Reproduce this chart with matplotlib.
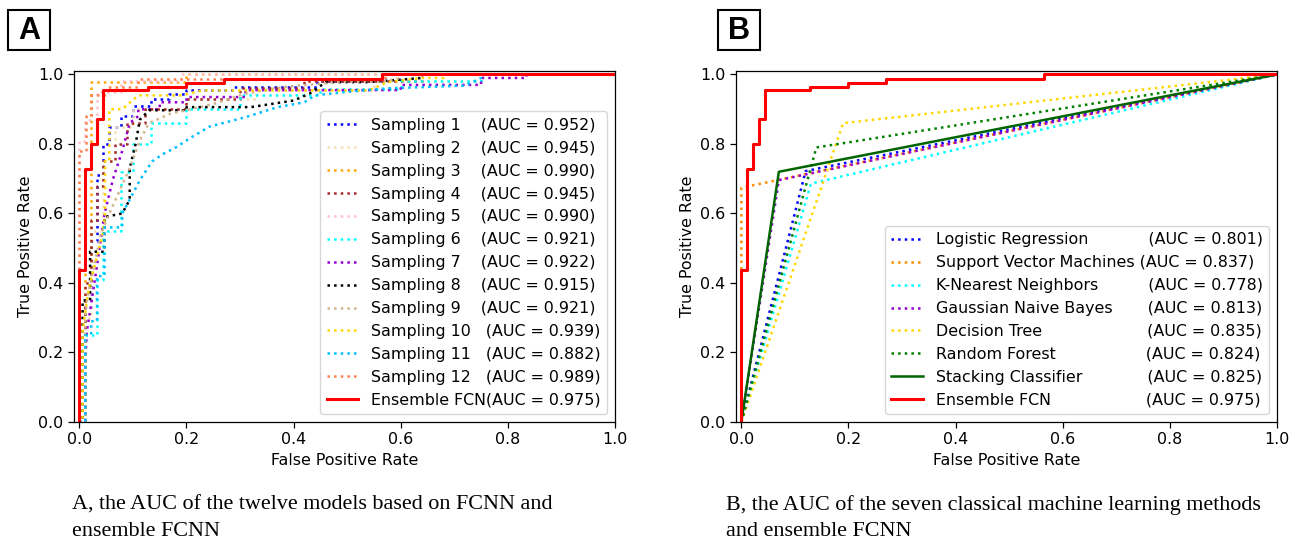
import matplotlib
matplotlib.use('Agg')
from matplotlib import pyplot as plt
from matplotlib.patches import Rectangle
from matplotlib.textpath import TextPath

plt.rcParams['font.family'] = ['DejaVu Sans']
plt.rcParams['axes.linewidth'] = 0.9

# ---- panel A : twelve sampling models + ensemble ----
samp_names = ['Sampling %d' % i for i in range(1, 13)]
samp_auc = [0.952, 0.945, 0.990, 0.945, 0.990, 0.921, 0.922, 0.915, 0.921, 0.939, 0.882, 0.989]
samp_colors = ['blue', 'wheat', 'orange', 'brown', 'pink', 'cyan', 'darkviolet', 'black',
               'tan', 'gold', 'deepskyblue', 'coral']

fpr_s1 = [0, 0.011, 0.011, 0.022, 0.022, 0.033, 0.033, 0.044, 0.044, 0.056, 0.056, 0.078, 0.078, 0.1, 0.1,
          0.133, 0.133, 0.167, 0.167, 0.2, 0.2, 0.289, 0.289, 0.444, 0.444, 0.6, 0.6, 1.0]
tpr_s1 = [0, 0, 0.33, 0.33, 0.52, 0.52, 0.71, 0.71, 0.8, 0.8, 0.85, 0.85, 0.88, 0.88, 0.91,
          0.91, 0.93, 0.93, 0.945, 0.945, 0.955, 0.955, 0.965, 0.965, 0.98, 0.98, 1.0, 1.0]
fpr_s2 = [0, 0.011, 0.011, 0.022, 0.022, 0.044, 0.044, 0.067, 0.067, 0.1, 0.1, 0.2, 0.2, 0.33, 0.33,
          0.55, 0.55, 0.75, 0.75, 1.0]
tpr_s2 = [0, 0, 0.3, 0.3, 0.55, 0.55, 0.75, 0.75, 0.85, 0.85, 0.9, 0.9, 0.93, 0.93, 0.955,
          0.955, 0.98, 0.98, 1.0, 1.0]
fpr_s3 = [0, 0.011, 0.011, 0.022, 0.022, 0.2, 0.2, 1.0]
tpr_s3 = [0, 0, 0.45, 0.45, 0.977, 0.977, 1.0, 1.0]
fpr_s4 = [0, 0.011, 0.011, 0.022, 0.022, 0.033, 0.033, 0.044, 0.044, 0.067, 0.067, 0.089, 0.089,
          0.122, 0.122, 0.2, 0.2, 0.3, 0.3, 0.42, 0.42, 0.64, 0.64, 1.0]
tpr_s4 = [0, 0, 0.4, 0.4, 0.58, 0.58, 0.68, 0.68, 0.75, 0.75, 0.8, 0.8, 0.86,
          0.86, 0.9, 0.9, 0.93, 0.93, 0.96, 0.96, 0.98, 0.98, 1.0, 1.0]
fpr_s5 = [0, 0, 0.011, 0.011, 0.033, 0.033, 0.078, 0.078, 0.189, 0.189, 1.0]
tpr_s5 = [0, 0.81, 0.81, 0.87, 0.87, 0.95, 0.95, 0.98, 0.98, 1.0, 1.0]
fpr_s6 = [0, 0.011, 0.011, 0.033, 0.033, 0.044, 0.044, 0.078, 0.078, 0.1, 0.1, 0.133, 0.133,
          0.2, 0.2, 0.3, 0.3, 0.45, 0.45, 0.6, 0.6, 0.75, 0.75, 1.0]
tpr_s6 = [0, 0, 0.25, 0.25, 0.41, 0.41, 0.55, 0.55, 0.72, 0.72, 0.8, 0.8, 0.86,
          0.86, 0.9, 0.9, 0.94, 0.94, 0.957, 0.957, 0.98, 0.98, 1.0, 1.0]
fpr_s7 = [0, 0.011, 0.011, 0.014, 0.02, 0.033, 0.047, 0.063, 0.08, 0.094, 0.11, 0.11, 0.15, 0.15,
          0.2, 0.2, 0.31, 0.31, 0.6, 0.6, 0.75, 0.75, 0.835, 0.835, 1.0]
tpr_s7 = [0, 0, 0.17, 0.26, 0.32, 0.45, 0.6, 0.7, 0.78, 0.86, 0.88, 0.9, 0.9, 0.92,
          0.92, 0.935, 0.935, 0.955, 0.955, 0.97, 0.97, 0.99, 0.99, 1.0, 1.0]
fpr_s8 = [0, 0.006, 0.006, 0.02, 0.02, 0.047, 0.047, 0.08, 0.094, 0.094, 0.105, 0.113, 0.13, 0.2, 0.2,
          0.32, 0.4, 0.43, 0.46, 0.54, 0.64, 0.64, 1.0]
tpr_s8 = [0, 0, 0.35, 0.35, 0.49, 0.49, 0.59, 0.6, 0.64, 0.73, 0.8, 0.87, 0.897, 0.897, 0.906,
          0.906, 0.925, 0.945, 0.978, 0.978, 0.99, 1.0, 1.0]
fpr_s9 = [0, 0.011, 0.011, 0.014, 0.04, 0.056, 0.094, 0.113, 0.13, 0.17, 0.25, 0.31, 0.38, 0.5,
          0.57, 0.6, 0.6, 1.0]
tpr_s9 = [0, 0, 0.3, 0.35, 0.54, 0.6, 0.73, 0.81, 0.86, 0.887, 0.915, 0.945, 0.964, 0.98,
          0.98, 0.99, 1.0, 1.0]
fpr_s10 = [0, 0.006, 0.006, 0.014, 0.02, 0.044, 0.048, 0.048, 0.056, 0.056, 0.08, 0.11, 0.19, 0.23,
           0.54, 0.575, 0.64, 0.68, 0.68, 1.0]
tpr_s10 = [0, 0, 0.26, 0.35, 0.4, 0.54, 0.6, 0.75, 0.75, 0.9, 0.9, 0.94, 0.94, 0.954,
           0.954, 0.978, 0.99, 0.99, 1.0, 1.0]
fpr_s11 = [0, 0.011, 0.011, 0.022, 0.022, 0.033, 0.033, 0.047, 0.047, 0.08, 0.08, 0.094, 0.113, 0.136,
           0.155, 0.18, 0.21, 0.243, 0.31, 0.37, 0.42, 0.44, 0.5, 0.575, 0.72, 0.75, 0.75, 1.0]
tpr_s11 = [0, 0, 0.25, 0.25, 0.29, 0.29, 0.42, 0.42, 0.56, 0.56, 0.6, 0.64, 0.696, 0.75,
           0.77, 0.79, 0.82, 0.85, 0.877, 0.906, 0.92, 0.94, 0.95, 0.96, 0.968, 0.99, 1.0, 1.0]
fpr_s12 = [0, 0, 0.012, 0.012, 0.022, 0.022, 0.05, 0.05, 0.11, 0.11, 0.57, 0.57, 1.0]
tpr_s12 = [0, 0.78, 0.78, 0.88, 0.88, 0.94, 0.94, 0.965, 0.965, 0.988, 0.988, 1.0, 1.0]

samp_fpr = [fpr_s1, fpr_s2, fpr_s3, fpr_s4, fpr_s5, fpr_s6, fpr_s7, fpr_s8, fpr_s9, fpr_s10, fpr_s11, fpr_s12]
samp_tpr = [tpr_s1, tpr_s2, tpr_s3, tpr_s4, tpr_s5, tpr_s6, tpr_s7, tpr_s8, tpr_s9, tpr_s10, tpr_s11, tpr_s12]

# ensemble FCN (same curve in both panels)
fpr_ens = [0, 0, 0.011, 0.011, 0.022, 0.022, 0.033, 0.033, 0.044, 0.044, 0.128, 0.128,
           0.2, 0.2, 0.27, 0.27, 0.565, 0.565, 1.0]
tpr_ens = [0, 0.437, 0.437, 0.729, 0.729, 0.80, 0.80, 0.871, 0.871, 0.954, 0.954, 0.964,
           0.964, 0.976, 0.976, 0.988, 0.988, 1.0, 1.0]
auc_ens = 0.975

# ---- panel B : classical ML methods ----
ml_names = ['Logistic Regression', 'Support Vector Machines', 'K-Nearest Neighbors',
            'Gaussian Naive Bayes', 'Decision Tree', 'Random Forest', 'Stacking Classifier']
ml_auc = [0.801, 0.837, 0.778, 0.813, 0.835, 0.824, 0.825]
ml_colors = ['blue', 'darkorange', 'cyan', 'darkviolet', 'gold', 'green', 'darkgreen']
ml_styles = [':', ':', ':', ':', ':', ':', '-']
ml_fpr = [[0, 0.12, 1], [0, 0.0, 1], [0, 0.13, 1], [0, 0.07, 1], [0, 0.19, 1], [0, 0.14, 1], [0, 0.07, 1]]
ml_tpr = [[0, 0.722, 1], [0, 0.674, 1], [0, 0.686, 1], [0, 0.696, 1], [0, 0.86, 1], [0, 0.79, 1], [0, 0.72, 1]]

W, H = 1295, 543
fs = 11.4
fig = plt.figure(figsize=(W / 100, H / 100), dpi=100)
axA = fig.add_axes([74 / W, (H - 422) / H, 541 / W, 351 / H])
axB = fig.add_axes([736 / W, (H - 422) / H, 541 / W, 351 / H])

for i in range(12):
    lab = '%-14s(AUC = %.3f)' % (samp_names[i], samp_auc[i])
    axA.plot(samp_fpr[i], samp_tpr[i], ':', color=samp_colors[i], lw=1.8, label=lab)
axA.plot(fpr_ens, tpr_ens, '-', color='red', lw=2.2, label='Ensemble FCN(AUC = %.3f)' % auc_ens)


# pad names so the AUC part lines up roughly like the original
def width(s):
    return TextPath((0, 0), s + '(', size=10).get_extents().x1


target = width('Support Vector Machines  ')
for i in range(7):
    nm = ml_names[i]
    if i == 1:
        nm = nm + ' '
    else:
        while width(nm) < target:
            nm += ' '
    axB.plot(ml_fpr[i], ml_tpr[i], ml_styles[i], color=ml_colors[i], lw=1.8,
             label='%s(AUC = %.3f)' % (nm, ml_auc[i]))
nm = 'Ensemble FCN'
while width(nm) < target:
    nm += ' '
axB.plot(fpr_ens, tpr_ens, '-', color='red', lw=2.2, label='%s(AUC = %.3f)' % (nm, auc_ens))

for ax in [axA, axB]:
    ax.set_xlim(-0.01, 1.0)
    ax.set_ylim(0.0, 1.01)
    ax.set_xticks([0, 0.2, 0.4, 0.6, 0.8, 1.0])
    ax.set_yticks([0, 0.2, 0.4, 0.6, 0.8, 1.0])
    ax.tick_params(labelsize=fs, length=4, width=0.9)
    ax.set_xlabel('False Positive Rate', fontsize=fs)
    ax.set_ylabel('True Positive Rate', fontsize=fs)
    ax.legend(loc='lower right', fontsize=fs)

# panel letters in boxes
for lx, letter in [(8, 'A'), (718, 'B')]:
    fig.patches.append(Rectangle((lx / W, 1 - 50 / H), 42 / W, 40 / H, transform=fig.transFigure,
                                 fill=False, ec='black', lw=1.5))
    fig.text((lx + 21) / W, 1 - 31 / H, letter, fontsize=22, fontweight='bold',
             family='Liberation Sans', ha='center', va='center')

# captions
cap = dict(fontsize=15.9, family='Liberation Serif', va='center', ha='left')
fig.text(72 / W, 1 - 505 / H, 'A, the AUC of the twelve models based on FCNN and', **cap)
fig.text(72 / W, 1 - 532 / H, 'ensemble FCNN', **cap)
fig.text(726 / W, 1 - 505 / H, 'B, the AUC of the seven classical machine learning methods', **cap)
fig.text(726 / W, 1 - 532 / H, 'and ensemble FCNN', **cap)

fig.savefig('out.png', dpi=100)
